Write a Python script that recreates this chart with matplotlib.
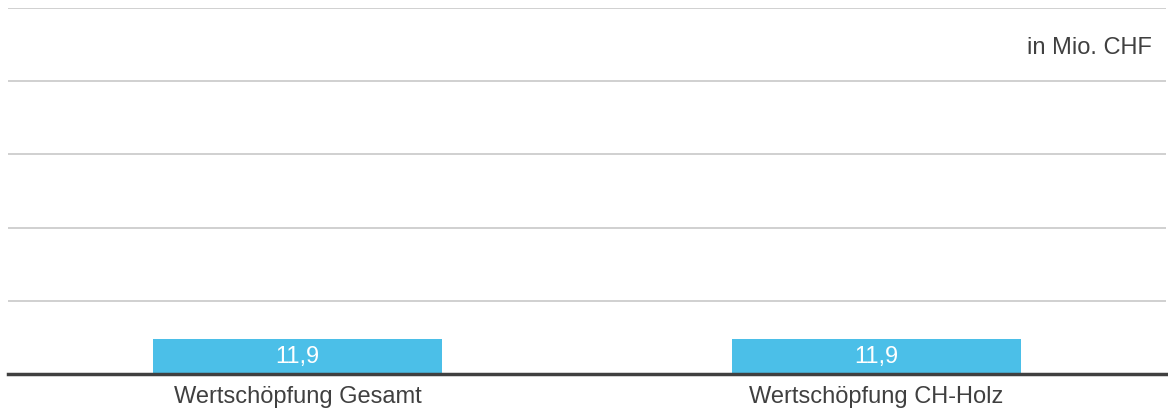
import matplotlib.pyplot as plt

plt.rcParams["font.family"] = ["Liberation Sans", "DejaVu Sans"]

categories = ["Wertschöpfung Gesamt", "Wertschöpfung CH-Holz"]
values = [11.9, 11.9]
value_labels = ["11,9", "11,9"]

fig = plt.figure(figsize=(11.68, 4.12), dpi=100)
ax = fig.add_axes([8 / 1168, 38 / 412, 1158 / 1168, 366 / 412])

x = range(len(categories))
bars = ax.bar(x, values, width=0.5, color="#4BBFE8", zorder=2)

for b, lab in zip(bars, value_labels):
    ax.text(b.get_x() + b.get_width() / 2, b.get_height() / 2, lab,
            ha="center", va="center", color="white", fontsize=17, zorder=3)

ax.set_xlim(-0.5, 1.5)
ax.set_ylim(0, 125)
ax.set_yticks([25, 50, 75, 100, 125])
ax.yaxis.grid(True, color="#c8c8c8", linewidth=1.2, zorder=0)
ax.tick_params(axis="y", left=False, labelleft=False)
ax.set_xticks(list(x))
ax.set_xticklabels(categories, fontsize=17, color="#404040")
ax.tick_params(axis="x", length=0, pad=9)

for s in ["top", "right", "left"]:
    ax.spines[s].set_visible(False)
ax.spines["bottom"].set_color("#404040")
ax.spines["bottom"].set_linewidth(2.5)
ax.spines["bottom"].set_zorder(4)

fig.text(1152 / 1168, 1 - 48 / 412, "in Mio. CHF", ha="right", va="center",
         fontsize=17, color="#404040")

fig.savefig("out.png", dpi=100)
